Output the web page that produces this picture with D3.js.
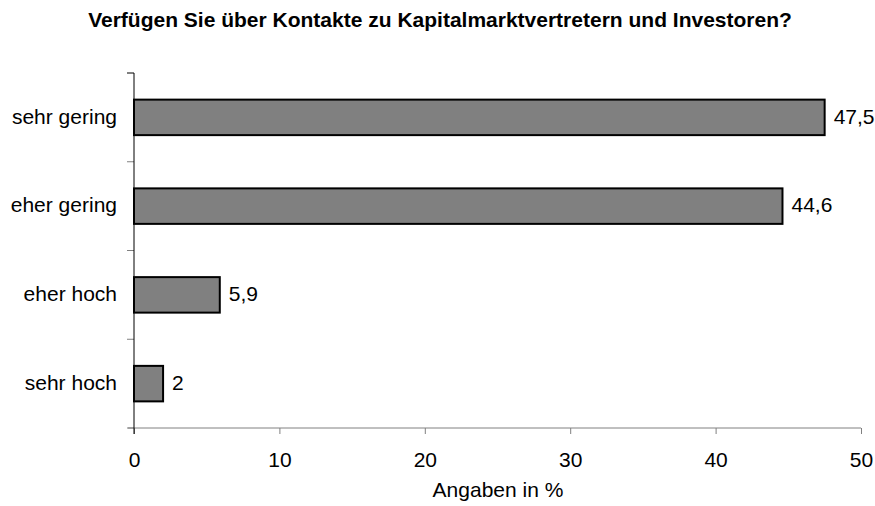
<!DOCTYPE html>
<meta charset="utf-8">
<script src="https://d3js.org/d3.v7.min.js"></script>
<style>
  body { margin: 0; background: #fff; }
  text { font-family: "Liberation Sans", Arial, sans-serif; fill: #000; }
</style>
<div id="viz"></div>
<script>
// data
var categories = ["sehr gering", "eher gering", "eher hoch", "sehr hoch"];
var values = [47.5, 44.6, 5.9, 2];
var xTicks = [0, 10, 20, 30, 40, 50];

var W = 875, H = 506;
var margin = {top: 73, right: 14, bottom: 78, left: 134};
var width = 861 - margin.left,
    height = 428 - margin.top;

var svg = d3.select("#viz").append("svg")
  .attr("width", W).attr("height", H);

svg.append("text")
  .attr("x", 440).attr("y", 27)
  .attr("text-anchor", "middle")
  .style("font-weight", "bold").style("font-size", "21px")
  .text("Verfügen Sie über Kontakte zu Kapitalmarktvertretern und Investoren?");

var g = svg.append("g")
  .attr("transform", "translate(" + margin.left + "," + margin.top + ")");

var x = d3.scaleLinear().domain([0, 50]).range([0, width]);
var y = d3.scaleBand().domain(categories).range([0, height])
  .paddingInner(0.6).paddingOuter(0.3);

var de = d3.formatLocale({decimal: ",", thousands: ".", grouping: [3], currency: ["", "€"]});
var fmt = de.format("~g");

// x axis
var xAxis = g.append("g")
  .attr("transform", "translate(0," + height + ")")
  .call(d3.axisBottom(x).tickValues(xTicks).tickSize(6).tickPadding(18).tickFormat(d3.format("d")));
xAxis.select(".domain").attr("stroke", "#808080").attr("d", "M-6,0H" + width);
xAxis.selectAll(".tick line").attr("stroke", "#808080");
xAxis.selectAll(".tick text").style("font-size", "21px").style("font-family", "Liberation Sans, Arial, sans-serif");

// y axis: ticks at band boundaries
var bounds = categories.map(function(c) { return y(c) - y.step() * y.paddingInner() / 2; });
bounds.push(height);
g.selectAll(".ytick").data(bounds).enter().append("line")
  .attr("x1", -7).attr("x2", 0)
  .attr("y1", function(d) { return d; }).attr("y2", function(d) { return d; })
  .attr("stroke", function(d, i) { return i == 0 ? "#000" : "#808080"; });
g.append("line").attr("x1", 0).attr("x2", 0).attr("y1", 0).attr("y2", height + 6)
  .attr("stroke", "#000");

g.selectAll(".ylab").data(categories).enter().append("text")
  .attr("x", -17)
  .attr("y", function(d) { return y(d) + y.bandwidth() / 2; })
  .attr("dy", "0.3em")
  .attr("text-anchor", "end")
  .style("font-size", "21px")
  .text(function(d) { return d; });

// bars
g.selectAll(".bar").data(values).enter().append("rect")
  .attr("x", 0)
  .attr("y", function(d, i) { return y(categories[i]); })
  .attr("width", function(d) { return x(d); })
  .attr("height", y.bandwidth())
  .attr("fill", "#808080")
  .attr("stroke", "#000").attr("stroke-width", 2);

g.selectAll(".val").data(values).enter().append("text")
  .attr("x", function(d) { return x(d) + 9; })
  .attr("y", function(d, i) { return y(categories[i]) + y.bandwidth() / 2; })
  .attr("dy", "0.3em")
  .style("font-size", "21px")
  .text(function(d) { return fmt(d); });

svg.append("text")
  .attr("x", 498).attr("y", 497)
  .attr("text-anchor", "middle")
  .style("font-size", "21px")
  .text("Angaben in %");
</script>
